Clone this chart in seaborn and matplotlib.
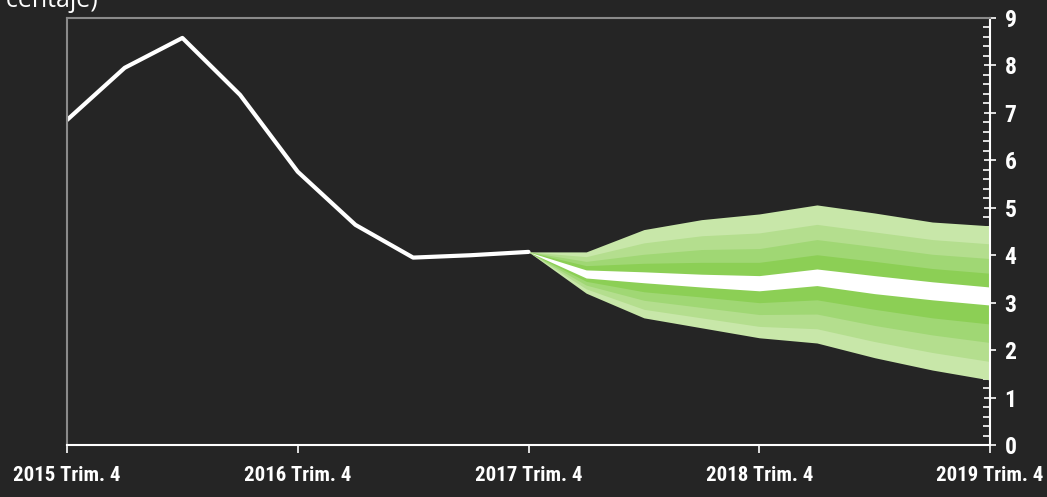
import numpy as np
import pandas as pd
import seaborn as sns
import matplotlib.pyplot as plt
from matplotlib import font_manager
from matplotlib.ticker import MultipleLocator

# quarterly index, 0 = 2015 Trim. 4 ... 16 = 2019 Trim. 4
hist_q = [0, 1, 2, 3, 4, 5, 6, 7, 8]
hist_val = [6.85, 7.95, 8.58, 7.38, 5.76, 4.64, 3.95, 4.00, 4.07]

fc_q = [8, 9, 10, 11, 12, 13, 14, 15, 16]
# fan edges, from outer top down to outer bottom
up4 = [4.07, 4.07, 4.54, 4.75, 4.87, 5.06, 4.89, 4.70, 4.62]
up3 = [4.07, 3.97, 4.26, 4.41, 4.47, 4.65, 4.49, 4.33, 4.24]
up2 = [4.07, 3.87, 4.02, 4.12, 4.14, 4.33, 4.18, 4.02, 3.93]
up1 = [4.07, 3.78, 3.83, 3.85, 3.85, 4.01, 3.87, 3.72, 3.62]
mid_top = [4.07, 3.69, 3.65, 3.60, 3.57, 3.71, 3.57, 3.44, 3.33]
mid_bot = [4.07, 3.52, 3.42, 3.33, 3.25, 3.36, 3.19, 3.06, 2.95]
lo1 = [4.07, 3.45, 3.23, 3.12, 3.00, 3.06, 2.86, 2.68, 2.55]
lo2 = [4.07, 3.37, 3.05, 2.90, 2.75, 2.76, 2.52, 2.32, 2.16]
lo3 = [4.07, 3.29, 2.86, 2.68, 2.50, 2.45, 2.18, 1.95, 1.76]
lo4 = [4.07, 3.20, 2.68, 2.47, 2.26, 2.15, 1.84, 1.58, 1.37]

tick_q = [0, 4, 8, 12, 16]
tick_labels = ["2015 Trim. 4", "2016 Trim. 4", "2017 Trim. 4", "2018 Trim. 4", "2019 Trim. 4"]

bg = "#252525"
greens = ["#c8e7a9", "#b4de8e", "#a0d774", "#8ccf55"]  # outer -> inner

sns.set_style("dark")

# narrow bold font for the tick labels, if one is around
names = {f.name for f in font_manager.fontManager.ttflist}
narrow = None
for cand in ["Liberation Sans Narrow", "DejaVu Sans Condensed", "Roboto Condensed"]:
    if cand in names:
        narrow = cand
        break
if narrow is None:
    narrow = "Liberation Sans"
    tick_size = 13
    stretch = "normal"
else:
    tick_size = 15
    stretch = "condensed"
plt.rcParams["font.family"] = [narrow, "DejaVu Sans"]

fig = plt.figure(figsize=(10.47, 4.97), dpi=100, facecolor=bg)
ax = fig.add_axes([67 / 1047, 1 - 445 / 497, (990 - 67) / 1047, (445 - 18) / 497])
ax.set_facecolor(bg)

# stack the bands from the outside in so there are no seams
uppers = [up4, up3, up2, up1]
lowers = [lo4, lo3, lo2, lo1]
for i in range(4):
    ax.fill_between(fc_q, lowers[i], uppers[i], color=greens[i], lw=0)
ax.fill_between(fc_q, mid_bot, mid_top, color="white", lw=0)

df = pd.DataFrame({"q": hist_q, "v": hist_val})
sns.lineplot(data=df, x="q", y="v", ax=ax, color="white", lw=3)

ax.set_xlim(0, 16)
ax.set_ylim(0, 9)
ax.set_xlabel("")
ax.set_ylabel("")
ax.grid(False)

ax.set_xticks(tick_q)
ax.set_xticklabels(tick_labels, fontsize=tick_size, fontweight="bold", color="white",
                   fontstretch=stretch)
ax.tick_params(axis="x", bottom=True, direction="out", length=6, width=1.2, color="white", pad=9)

ax.yaxis.tick_right()
ax.yaxis.set_major_locator(MultipleLocator(1))
ax.yaxis.set_minor_locator(MultipleLocator(0.2))
ax.tick_params(axis="y", which="major", right=True, left=False, direction="inout",
               length=9, width=1.2, color="white", labelsize=tick_size + 2,
               labelcolor="white", pad=6)
ax.tick_params(axis="y", which="minor", right=True, left=False, direction="in",
               length=5, width=1.2, color="white")
for t in ax.get_yticklabels():
    t.set_fontweight("bold")
    t.set_fontstretch(stretch)

for s in ["left", "top"]:
    ax.spines[s].set_color("#8a8a8a")
    ax.spines[s].set_linewidth(1.5)
for s in ["bottom", "right"]:
    ax.spines[s].set_color("white")
    ax.spines[s].set_linewidth(1.5)

fig.text(98 / 1047, 1 - 7 / 497, "(porcentaje)", ha="right", va="baseline",
         fontsize=18, color="white", family=["Open Sans", "DejaVu Sans"])

fig.savefig("out.png", dpi=100, facecolor=bg)
